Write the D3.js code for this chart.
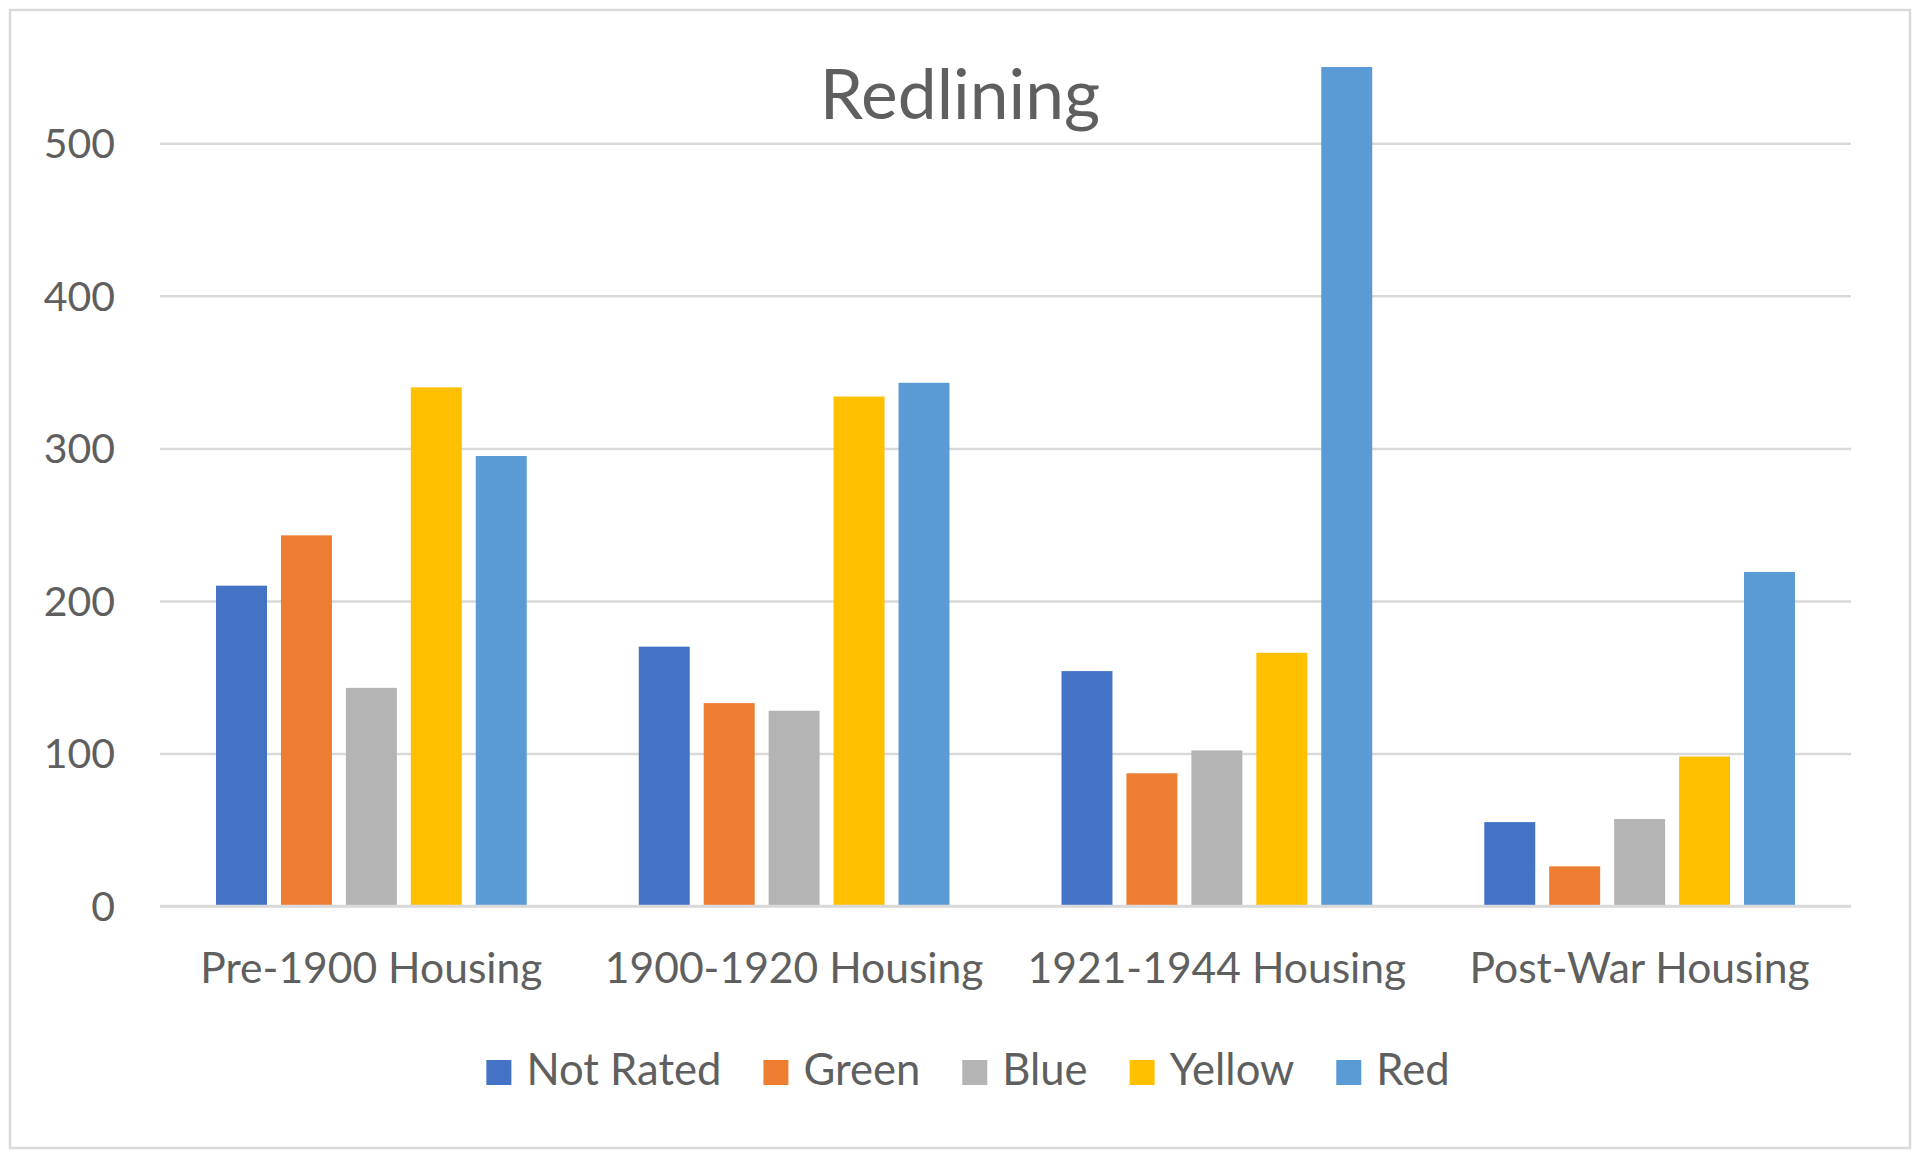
<!DOCTYPE html>
<html>
<head>
<meta charset="utf-8">
<script src="https://cdn.jsdelivr.net/npm/d3@7"></script>
<style>
  html, body { margin: 0; padding: 0; background: #ffffff; }
  svg { display: block; }
  text { font-family: Lato, "Open Sans", sans-serif; fill: #5f5f5f; }
</style>
</head>
<body>
<svg id="chart" width="1920" height="1158"></svg>
<script>
const title = "Redlining";
const categories = ["Pre-1900 Housing", "1900-1920 Housing", "1921-1944 Housing", "Post-War Housing"];
const seriesNames = ["Not Rated", "Green", "Blue", "Yellow", "Red"];
const notRated = [210, 170, 154, 55];
const green    = [243, 133, 87, 26];
const blue     = [143, 128, 102, 57];
const yellow   = [340, 334, 166, 98];
const red      = [295, 343, 550, 219];
const yTicks = [0, 100, 200, 300, 400, 500];
const colors = ["#4472C4", "#ED7D31", "#B4B4B4", "#FFC000", "#5B9BD5"];

const seriesValues = [notRated, green, blue, yellow, red];
const data = categories.map((c, i) => ({
  category: c,
  values: seriesNames.map((s, j) => ({ series: s, value: seriesValues[j][i] }))
}));

const W = 1920, H = 1158;
const plot = { left: 160, right: 1851, top: 143.3, bottom: 906 };

const svg = d3.select("#chart");

// outer border
svg.append("rect")
  .attr("x", 10).attr("y", 10)
  .attr("width", W - 20).attr("height", H - 20)
  .attr("fill", "#ffffff")
  .attr("stroke", "#d9d9d9").attr("stroke-width", 2.5);

const x0 = d3.scaleBand()
  .domain(categories)
  .range([plot.left, plot.right])
  .paddingInner(0.265)
  .paddingOuter(0.1325);

const x1 = d3.scaleBand()
  .domain(seriesNames)
  .range([0, x0.bandwidth()])
  .paddingInner(0.215)
  .paddingOuter(0);

const y = d3.scaleLinear()
  .domain([0, 500])
  .range([plot.bottom, plot.top]);

const color = d3.scaleOrdinal().domain(seriesNames).range(colors);

// gridlines
const yAxis = d3.axisLeft(y)
  .tickValues(yTicks)
  .tickSize(-(plot.right - plot.left))
  .tickPadding(45)
  .tickFormat(d3.format("d"));

const gy = svg.append("g")
  .attr("transform", `translate(${plot.left},0)`)
  .call(yAxis);
gy.select(".domain").remove();
gy.selectAll(".tick line")
  .attr("stroke", "#d9d9d9")
  .attr("stroke-width", 2.5);
gy.selectAll(".tick text")
  .attr("font-size", 41)
  .attr("dy", "0.35em")
  .style("fill", "#5f5f5f");

// bars
const groups = svg.append("g").selectAll("g")
  .data(data)
  .join("g")
  .attr("transform", d => `translate(${x0(d.category)},0)`);

groups.selectAll("rect")
  .data(d => d.values)
  .join("rect")
  .attr("x", d => x1(d.series))
  .attr("y", d => y(d.value))
  .attr("width", x1.bandwidth())
  .attr("height", d => y(0) - y(d.value))
  .attr("fill", d => color(d.series));

// x axis baseline + labels
const xAxis = d3.axisBottom(x0).tickSize(0).tickPadding(0);
const gx = svg.append("g")
  .attr("transform", `translate(0,${plot.bottom})`)
  .call(xAxis);
gx.select(".domain")
  .attr("stroke", "#d9d9d9")
  .attr("stroke-width", 2.5)
  .attr("d", `M${plot.left},0H${plot.right}`);
gx.selectAll(".tick text")
  .attr("font-size", 42.6)
  .attr("y", 77)
  .attr("dy", 0)
  .style("fill", "#5f5f5f");

// title
svg.append("text")
  .attr("x", W / 2)
  .attr("y", 119)
  .attr("text-anchor", "middle")
  .attr("font-size", 69.5)
  .text(title);

// legend
const legend = svg.append("g").attr("transform", "translate(0,1085)");
const fontLegend = 43.6;
const items = [];
seriesNames.forEach((s, i) => {
  const g = legend.append("g");
  g.append("rect")
    .attr("x", 0).attr("y", -25)
    .attr("width", 25).attr("height", 25)
    .attr("fill", color(s));
  const t = g.append("text")
    .attr("x", 40).attr("y", 0)
    .attr("font-size", fontLegend)
    .text(s);
  const w = 40 + t.node().getComputedTextLength();
  items.push({ g, w });
});
const gap = 42;
const total = d3.sum(items, d => d.w) + gap * (items.length - 1);
let cx = (488 + 1448) / 2 - total / 2;
items.forEach(it => {
  it.g.attr("transform", `translate(${cx},0)`);
  cx += it.w + gap;
});
</script>
</body>
</html>
